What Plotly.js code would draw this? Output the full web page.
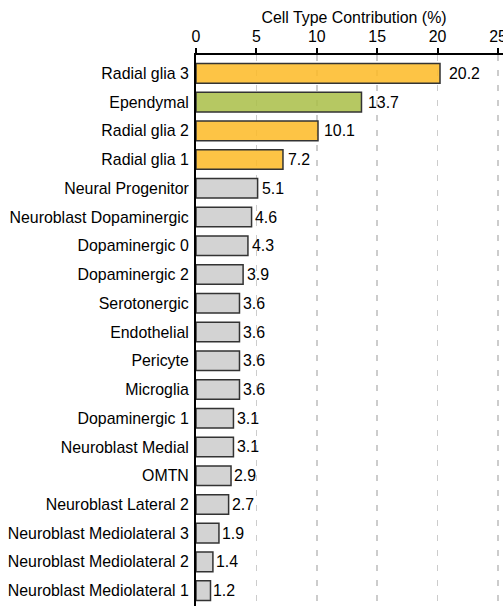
<!DOCTYPE html>
<html>
<head>
<meta charset="utf-8">
<script src="https://cdn.plot.ly/plotly-3.0.1.min.js"></script>
<style>
html, body { margin: 0; padding: 0; overflow: hidden; background: #fff; }
#chart { width: 512px; height: 609px; }
</style>
</head>
<body>
<div id="chart"></div>
<script>
const categories = [
  "Radial glia 3", "Ependymal", "Radial glia 2", "Radial glia 1",
  "Neural Progenitor", "Neuroblast Dopaminergic", "Dopaminergic 0",
  "Dopaminergic 2", "Serotonergic", "Endothelial", "Pericyte", "Microglia",
  "Dopaminergic 1", "Neuroblast Medial", "OMTN", "Neuroblast Lateral 2",
  "Neuroblast Mediolateral 3", "Neuroblast Mediolateral 2", "Neuroblast Mediolateral 1"
];
const values = [20.2, 13.7, 10.1, 7.2, 5.1, 4.6, 4.3, 3.9, 3.6, 3.6, 3.6, 3.6, 3.1, 3.1, 2.9, 2.7, 1.9, 1.4, 1.2];
const groups = ["radial", "ependymal", "radial", "radial", "other", "other", "other", "other", "other", "other", "other", "other", "other", "other", "other", "other", "other", "other", "other"];
const xTicks = [0, 5, 10, 15, 20, 25];

const groupColors = {
  radial: "rgba(253,186,37,0.85)",
  ependymal: "rgba(169,190,70,0.85)",
  other: "rgba(203,203,203,0.85)"
};
const FONT = "'Liberation Sans', Arial, Helvetica, sans-serif";
const FS = 15.9;

const trace = {
  type: "bar",
  orientation: "h",
  x: values,
  y: categories,
  width: 0.68,
  marker: {
    color: groups.map(g => groupColors[g]),
    line: { color: "#333333", width: 1.5 }
  },
  hoverinfo: "none"
};

const annotations = values.map((v, i) => ({
  x: v * 1.028 + 0.1,
  y: categories[i],
  xref: "x", yref: "y",
  text: v.toFixed(1),
  showarrow: false,
  xanchor: "left",
  yanchor: "middle",
  borderpad: 0,
  font: { family: FONT, size: FS, color: "#000" }
}));

const layout = {
  width: 512,
  height: 609,
  margin: { l: 196, r: 0, t: 55, b: 0, pad: 0 },
  paper_bgcolor: "#fff",
  plot_bgcolor: "#fff",
  font: { family: FONT, size: FS, color: "#000" },
  showlegend: false,
  xaxis: {
    side: "top",
    range: [0, 26.16],
    tickvals: xTicks,
    ticktext: xTicks.map(String),
    ticks: "outside",
    ticklen: 5,
    tickwidth: 2,
    tickcolor: "#000",
    showline: true,
    linewidth: 2,
    linecolor: "#000",
    showgrid: true,
    gridcolor: "#cccccc",
    gridwidth: 1.5,
    griddash: "6px,9px",
    zeroline: false,
    tickfont: { family: FONT, size: FS, color: "#000" },
    title: { text: "Cell Type Contribution (%)", standoff: 0, font: { family: FONT, size: FS, color: "#000" } }
  },
  yaxis: {
    type: "category",
    range: [18.64, -0.64],
    showline: true,
    linewidth: 2,
    linecolor: "#000",
    ticks: "",
    showgrid: false,
    zeroline: false,
    ticklabelstandoff: 2,
    tickfont: { family: FONT, size: FS, color: "#000" }
  },
  annotations: annotations
};

Plotly.newPlot("chart", [trace], layout, { displayModeBar: false, staticPlot: true });
</script>
</body>
</html>
